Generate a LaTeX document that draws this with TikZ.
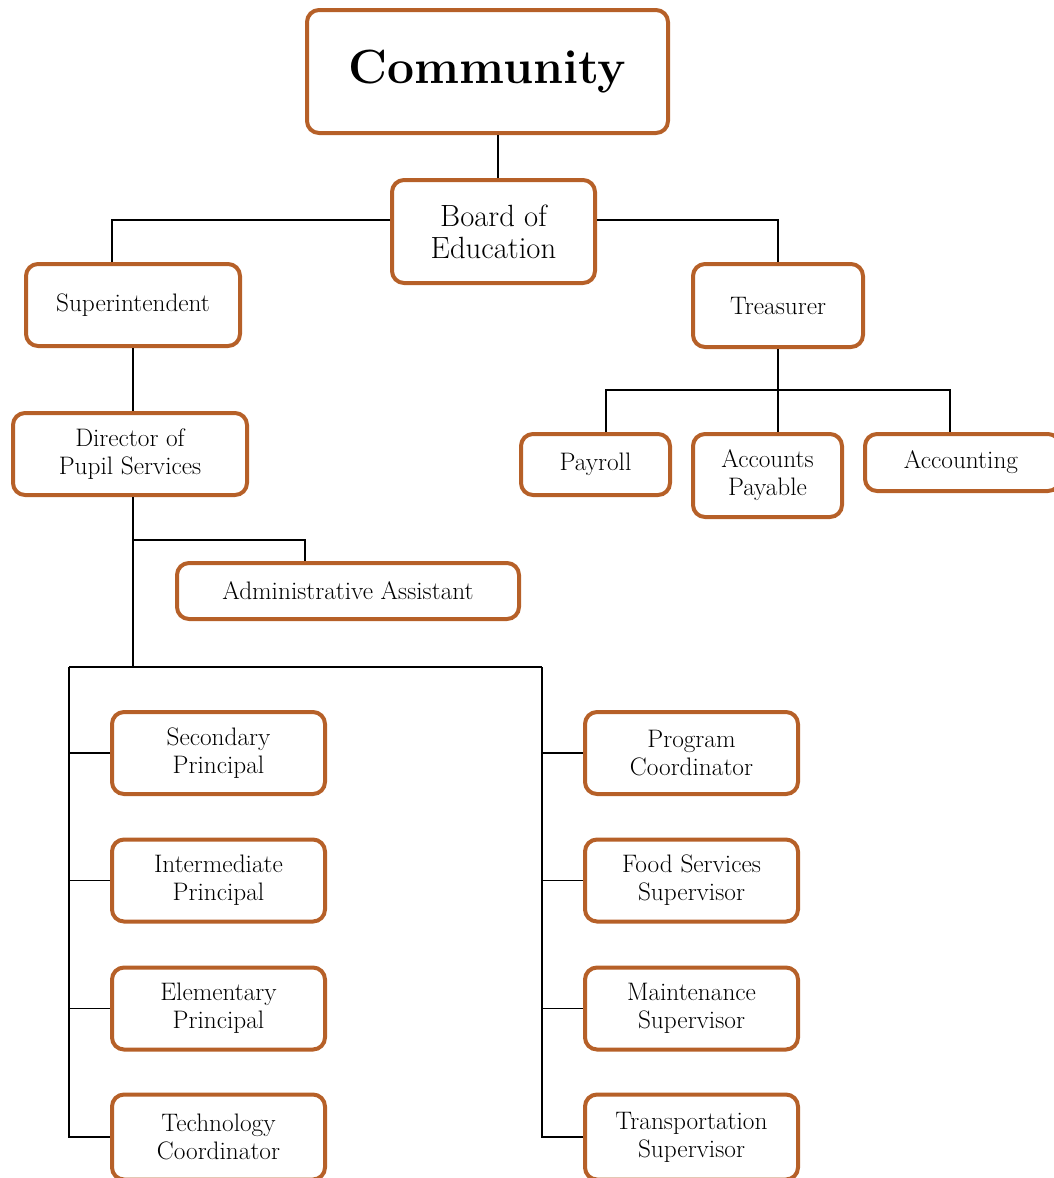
\documentclass[tikz,border=0pt]{standalone}
\usepackage{fontspec}
\definecolor{boxbrown}{RGB}{182,96,40}
\begin{document}
\begin{tikzpicture}[x=1pt,y=-1pt,
  box/.style={draw=boxbrown, line width=4pt, rounded corners=12pt, fill=white,
    align=center, inner sep=0pt, font=\fontsize{25.3}{28}\selectfont},
  conn/.style={draw=black, line width=1.5pt}]
\useasboundingbox (0,0) rectangle (1054,1178);
% nodes
\node[box, minimum width=361, minimum height=123, font=\fontsize{48}{56}\selectfont\bfseries] (comm) at (487.5,71.5) {Community};
\node[box, minimum width=203, minimum height=103, font=\fontsize{30.7}{32}\selectfont] (board) at (493.5,231.5) {Board of\\Education};
\node[box, minimum width=214, minimum height=82] (sup) at (133,305) {Superintendent};
\node[box, minimum width=170, minimum height=83] (treas) at (778,305.5) {Treasurer};
\node[box, minimum width=234, minimum height=82] (dir) at (130,454) {Director of\\Pupil Services};
\node[box, minimum width=149, minimum height=61] (pay) at (595.5,464.5) {Payroll};
\node[box, minimum width=149, minimum height=83] (ap) at (767.5,475.5) {Accounts\\Payable};
\node[box, minimum width=195, minimum height=57] (acc) at (962.5,462.5) {\hspace*{-3pt}Accounting};
\node[box, minimum width=342, minimum height=56] (admin) at (348,591) {Administrative Assistant};
\node[box, minimum width=213, minimum height=82] (sec) at (218.5,753) {Secondary\\Principal};
\node[box, minimum width=213, minimum height=82] (inter) at (218.5,880.5) {Intermediate\\Principal};
\node[box, minimum width=213, minimum height=82] (elem) at (218.5,1008.5) {Elementary\\Principal};
\node[box, minimum width=213, minimum height=85] (tech) at (218.5,1137) {Technology\\Coordinator};
\node[box, minimum width=213, minimum height=82] (prog) at (691.5,753) {Program\\Coordinator};
\node[box, minimum width=213, minimum height=82] (food) at (691.5,880.5) {Food Services\\Supervisor};
\node[box, minimum width=213, minimum height=82] (maint) at (691.5,1008.5) {Maintenance\\Supervisor};
\node[box, minimum width=213, minimum height=85] (trans) at (691.5,1137) {Transportation\\Supervisor};
% junction coordinates
\coordinate (tj) at (778,390);
\coordinate (dj) at (133,667);
\coordinate (aj) at (133,540);
\coordinate (bl) at (69,667);
\coordinate (br) at (542,667);
% connectors
\draw[conn] ([xshift=4.5pt]board.north |- comm.south) -- ([xshift=4.5pt]board.north);
\draw[conn] ([yshift=11.5pt]board.west) -| ([xshift=-21pt]sup.north);
\draw[conn] ([yshift=11.5pt]board.east) -| (treas.north);
\draw[conn] (sup.south) -- (sup.south |- dir.north);
\draw[conn] (treas.south) -- (treas.south |- ap.north);
\draw[conn] ([xshift=10.5pt]pay.north) |- (tj) -| ([xshift=-12.5pt]acc.north);
\draw[conn] ([xshift=3pt]dir.south) -- (dj);
\draw[conn] (aj) -| ([xshift=-43pt]admin.north);
\draw[conn] (bl) -- (br);
\draw[conn] (bl) |- (tech.west);
\draw[conn] (sec.west -| bl) -- (sec.west);
\draw[conn] (inter.west -| bl) -- (inter.west);
\draw[conn] (elem.west -| bl) -- (elem.west);
\draw[conn] (br) |- (trans.west);
\draw[conn] (prog.west -| br) -- (prog.west);
\draw[conn] (food.west -| br) -- (food.west);
\draw[conn] (maint.west -| br) -- (maint.west);
\end{tikzpicture}
\end{document}
